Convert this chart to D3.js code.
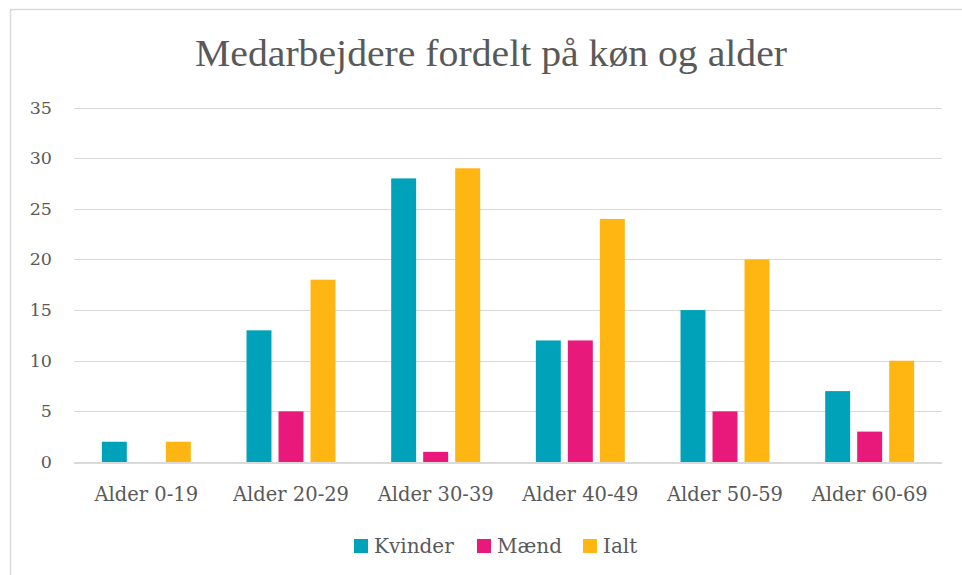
<!DOCTYPE html>
<html><head><meta charset="utf-8">
<script src="https://cdnjs.cloudflare.com/ajax/libs/d3/7.8.5/d3.min.js"></script>
<style>body{margin:0;background:#fff}svg{display:block}</style>
</head><body>
<svg id="c" width="962" height="575"></svg>
<script>
const categories = ["Alder 0-19","Alder 20-29","Alder 30-39","Alder 40-49","Alder 50-59","Alder 60-69"];
const seriesNames = ["Kvinder","Mænd","Ialt"];
const kvinder = [2,13,28,12,15,7];
const maend = [0,5,1,12,5,3];
const ialt = [2,18,29,24,20,10];
const yTicks = [0,5,10,15,20,25,30,35];
const colors = ["#00A2B9","#E9197B","#FFB612"];
const title = "Medarbejdere fordelt på køn og alder";

const values = [kvinder, maend, ialt];
const svg = d3.select("#c");
const font = "'Liberation Serif', 'DejaVu Serif', serif";
const font2 = "'DejaVu Serif', 'Liberation Serif', serif";
const textColor = "#595959";

svg.append("rect").attr("x",10.5).attr("y",9.5).attr("width",970).attr("height",600)
  .attr("fill","#fff").attr("stroke","#d9d9d9").attr("stroke-width",1.5);

svg.append("text").attr("x",491).attr("y",66).attr("text-anchor","middle")
  .attr("font-family",font).attr("font-size",38).attr("fill",textColor)
  .attr("textLength",592).attr("lengthAdjust","spacingAndGlyphs").text(title);

const plotLeft = 74, plotRight = 942, plotTop = 107.5, plotBottom = 462;
const y = d3.scaleLinear().domain([0,35]).range([plotBottom, plotTop]);
const x0 = d3.scaleBand().domain(categories).range([plotLeft,plotRight]).paddingInner(0.385).paddingOuter(0.1925);
const x1 = d3.scaleBand().domain(seriesNames).range([0,x0.bandwidth()]).paddingInner(0.22);

// grid
svg.append("g").selectAll("line").data(yTicks.filter(d=>d>0)).join("line")
  .attr("x1",plotLeft).attr("x2",plotRight).attr("y1",d=>Math.round(y(d))+0.5).attr("y2",d=>Math.round(y(d))+0.5)
  .attr("stroke","#d9d9d9").attr("stroke-width",1);

// y labels
svg.append("g").selectAll("text").data(yTicks).join("text")
  .attr("x",52).attr("y",d=>y(d)+6).attr("text-anchor","end")
  .attr("font-family",font2).attr("font-size",17.5).attr("fill",textColor).text(d=>d);

// bars
const g = svg.append("g");
categories.forEach((c,i)=>{
  seriesNames.forEach((s,j)=>{
    const v = values[j][i];
    if (v<=0) return;
    g.append("rect").attr("x",x0(c)+x1(s)).attr("y",y(v)).attr("width",x1.bandwidth())
      .attr("height",y(0)-y(v)).attr("fill",colors[j]);
  });
});

// baseline
svg.append("line").attr("x1",plotLeft).attr("x2",plotRight).attr("y1",plotBottom+1).attr("y2",plotBottom+1)
  .attr("stroke","#d9d9d9").attr("stroke-width",2);

// x labels
svg.append("g").selectAll("text").data(categories).join("text")
  .attr("x",d=>x0(d)+x0.bandwidth()/2).attr("y",501).attr("text-anchor","middle")
  .attr("font-family",font2).attr("font-size",19.5).attr("fill",textColor).text(d=>d);

// legend
const legX = [354, 477, 583];
seriesNames.forEach((s,j)=>{
  svg.append("rect").attr("x",legX[j]).attr("y",539).attr("width",14).attr("height",14).attr("fill",colors[j]);
  svg.append("text").attr("x",legX[j]+20).attr("y",553).attr("font-family",font2)
    .attr("font-size",20).attr("fill",textColor).text(s);
});
</script>
</body></html>
